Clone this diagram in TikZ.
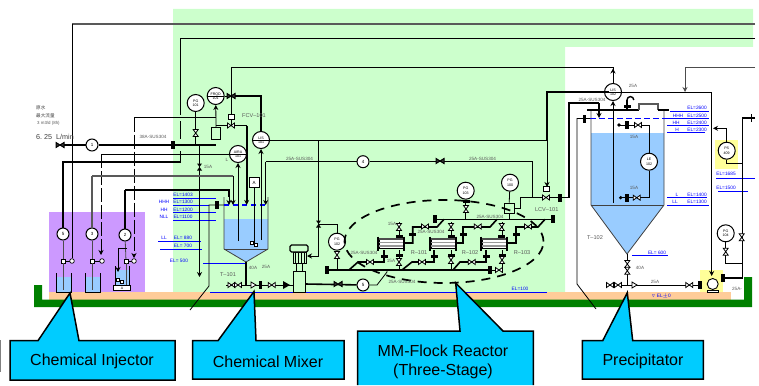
\documentclass[tikz,border=0pt]{standalone}
\usepackage{amssymb}
\usepackage{fontspec}
\setmainfont{Liberation Sans}
\newfontfamily\cjkfont{Noto Sans CJK JP}
\usetikzlibrary{arrows.meta, calc}
\definecolor{areagreen}{HTML}{CCFFCC}
\definecolor{areapurple}{HTML}{CC99FF}
\definecolor{floorband}{HTML}{FFCC99}
\definecolor{floorgreen}{HTML}{008000}
\definecolor{liquid}{HTML}{99CCFF}
\definecolor{callblue}{HTML}{00CCFF}
\definecolor{markyellow}{HTML}{FFFF99}
\tikzset{
    pipe/.style={line width=1.6pt},
    mainpipe/.style={line width=2.4pt},
    line/.style={line width=.8pt},
    greyline/.style={line width=1.3pt, gray!70!black},
    longdash/.style={line width=.8pt, dash pattern=on 14pt off 3pt},
    flow/.style={-{Stealth[length=5pt,width=5pt]}},
    wall/.style={line width=.8pt, black!75},
    lab/.style={font=\fontsize{4.6}{5}\selectfont, text=black!65, inner sep=0pt},
    tag/.style={font=\fontsize{5.6}{6}\selectfont, text=black!65, inner sep=0pt},
    ellab/.style={font=\fontsize{4.8}{5}\selectfont, text=blue, inner sep=0pt},
    elline/.style={line width=.8pt, blue},
    inst/.style={circle, draw, line width=1pt, fill=white, minimum size=17pt, inner sep=0pt,
        align=center, font=\fontsize{3.6}{4.2}\selectfont},
    instline/.style={inst, path picture={\draw[line width=.5pt] (path picture bounding box.west) -- (path picture bounding box.east);}},
    numc/.style={circle, draw, line width=1pt, fill=white, minimum size=12pt, inner sep=0pt,
        font=\fontsize{4.5}{5}\selectfont},
    calltext/.style={font=\fontsize{16}{19}\selectfont, align=center, inner sep=0pt},
    callout/.style={line width=1.5pt, fill=callblue, line join=miter},
    hvalve/.pic={\draw[line width=.8pt, fill=white] (-3.5,-2.5) -- (3.5,2.5) -- (3.5,-2.5) -- (-3.5,2.5) -- cycle;},
    vvalve/.pic={\draw[line width=.8pt, fill=white] (-2.5,-3.5) -- (2.5,3.5) -- (-2.5,3.5) -- (2.5,-3.5) -- cycle;},
    dkvalve/.pic={\fill (-2.5,-3.5) -- (2.5,3.5) -- (-2.5,3.5) -- (2.5,-3.5) -- cycle;},
    dkhvalve/.pic={\draw[line width=1pt, fill=black!80] (-4,-2.5) -- (4,2.5) -- (4,-2.5) -- (-4,2.5) -- cycle;},
    vblock/.pic={\fill (-1.7,-4) rectangle (1.7,4);},
    hblock/.pic={\fill (-3.5,-1.5) rectangle (3.5,1.5);},
    meter/.pic={\draw[line width=.7pt, fill=white] (-2,-2) rectangle (2,2);},
    reactor/.pic={
        \draw[line width=.5pt, fill=white] (-12,-4.5) rectangle (12,4.5);
        \draw[line width=1.1pt, black!70] (-12,-4.5) -- (12,-4.5);
        \draw[line width=1.1pt, black!40] (-12,2.5) -- (12,2.5);
        \draw[line width=.5pt, black!40] (-12,-1) -- (12,-1);
        \draw[line width=1.1pt] (-13,-7) -- (-13,7) (13,-7) -- (13,7);
    },
}
\begin{document}
\begin{tikzpicture}[x=1pt, y=-1pt]
    \useasboundingbox (0,0) rectangle (759,385);
    % areas
    \fill[areagreen] (173,9) -| (753,47) -| (565,292) -| cycle;
    \fill[areapurple] (49,212) rectangle (145,293);
    \fill[markyellow] (715,140) rectangle (738,169);
    \fill[markyellow] (700,270) rectangle (723,292);
    \fill[floorband] (49,292) rectangle (731,299.5);
    \fill[floorgreen] (34,285) -- (42,285) -- (42,299.5) -- (744,299.5) -- (744,277) -- (752,277) -- (752,307) -- (34,307) -- cycle;

    % tanks
    \fill[liquid] (224,219) -- (268,219) -- (268,249) -- (246,262) -- (224,249) -- cycle;
    \draw[wall] (224,197) -- (224,249) -- (246,262) -- (268,249) -- (268,197);
    \draw[wall] (224,249) -- (268,249);
    \fill[liquid] (591,133) -- (664,133) -- (664,205) -- (627,254) -- (591,205) -- cycle;
    \draw[wall] (591,110) -- (591,205) -- (627,254) -- (664,205) -- (664,110);
    \draw[wall] (591,205) -- (664,205);
    \draw[pipe] (587,110) -- (639,110);
    \draw[greyline] (639,110) -- (639,104) -- (658,104) -- (658,110);
    \draw[pipe] (658,110) -- (669,110);
    \draw[line width=1.6pt, blue, dash pattern=on 5pt off 4pt] (224,205) -- (268,205);
    \draw[line width=1pt, blue, dash pattern=on 6pt off 3pt] (590,118.5) -- (665,118.5);

    % dosing buckets
    \foreach \x/\r in {56/71, 85/100} {
        \fill[liquid] (\x,277) rectangle (\r,292);
        \draw[line width=1pt] (\x,273) -- (\x,292) -- (\r,292) -- (\r,273);
    }
    \fill[liquid] (115,270) rectangle (129,285);
    \draw[line width=1pt] (115,266) -- (115,285) (129,285) -- (129,266);
    \node[draw, line width=1pt, fill=white, minimum width=17pt, minimum height=5pt, inner sep=0pt,
        font=\fontsize{3.5}{4}\selectfont] (stand) at (122,288) {A};

    % level lines on the left
    \foreach \y/\a/\b in {198/173/216, 212/173/216, 220/173/216, 241.5/158/201, 249/160/202, 263/203/246, 205/173/209}
        \draw[elline] (\a,\y) -- (\b,\y);
    \foreach \i/\x/\y/\t in {a/183/195/EL=1403, b/183/202/EL=1300, c/183/209.5/EL=1200, d/183/217/EL=1100,
        e/183/238/EL=\ 880, f/183/246/EL=\ 700, g/179/261/EL=\ 500, h/164/202/HHH, j/164/210/HH, k/164/217/NLL, l/164/238/LL}
        \node[ellab] (lvl\i) at (\x,\y) {\t};
    % level lines on the right
    \foreach \y/\a/\b in {111.5/670/709, 118.5/665/709, 125.5/667/709, 132.5/667/705, 197.5/667/707, 205/667/709,
        255/632/668, 178/716/755, 191/718/748}
        \draw[elline] (\a,\y) -- (\b,\y);
    \foreach \i/\x/\y/\t in {a/697/108/EL=2600, b/697/115.5/EL=2500, c/697/123/EL=2400, d/697/130/EL=2300,
        e/697/195/EL=1400, f/697/202/EL=1300, g/657/252.5/EL=\ 600, h/726/173.5/EL=1685, i/726/187.5/EL=1500,
        j/678/115.5/HHH, k/676/123/HH, m/677/130/H, n/677/195/L, o/675/202/LL}
        \node[ellab] (lvr\i) at (\x,\y) {\t};
    \draw[elline] (210,292) -- (547,292);
    \node[ellab] (elfloor) at (520,289) {EL=100};
    \node[ellab] (elzero) at (661,296) {$\triangledown$ EL$\pm$0};

    % instruments
    \node[inst] (pg101) at (195.7,103) {PG\\101};
    \node[instline] (frq101) at (215.7,96) {FRQD\\101};
    \node[instline] (aira101) at (238,154) {AIRA\\101};
    \node[instline] (lis101) at (261,140) {LIS\\101};
    \node[inst] (pg102) at (337,241.7) {PG\\102};
    \node[inst] (pg103) at (465.7,190.7) {PG\\103};
    \node[inst] (pg100) at (510,182.7) {PG\\100};
    \node[instline] (lis102) at (613,92) {LIS\\102};
    \node[inst] (le102) at (649,161.7) {LE\\102};
    \node[inst] (ps409) at (726.7,150.7) {PS\\409};
    \node[inst] (pg104) at (725.7,233.3) {PG\\104};
    \node[numc] (flow1) at (92,145) {1};
    \node[numc] (dose5) at (63,234) {5};
    \node[numc] (dose3) at (92,234) {3};
    \node[numc] (dose2) at (125,235) {2};
    \node[numc] (flow4) at (363,161.7) {4};
    \node[numc] (flow5) at (363,285) {5};
    \node[draw, line width=.8pt, fill=white, minimum size=10pt, inner sep=0pt,
        font=\fontsize{4.5}{5}\selectfont] (analyser) at (254,182.5) {A};
    \node[draw, line width=.8pt, fill=areagreen, minimum width=9pt, minimum height=12pt, inner sep=0pt] (strainer) at (216,133) {};
    \node[draw, line width=.7pt, fill=white, minimum width=6pt, minimum height=5pt, inner sep=0pt] (fcvtop) at (231,117) {};
    \node[draw, line width=.7pt, fill=white, minimum width=6pt, minimum height=5pt, inner sep=0pt] (lcvtop) at (546,189) {};
    \node[draw, line width=.8pt, fill=areagreen, minimum size=10pt, inner sep=0pt] (levelbox) at (509,208) {};
    \coordinate (feed) at (60,145);
    \coordinate (fcv) at (231,125.5);
    \coordinate (lcv) at (546,197.5);

    % long lines at the top
    \draw[greyline] (755,24) -- (72,24);
    \draw[line width=.9pt] (72,24) -- (72,258);
    \draw[pipe] (755,38.6) -| (180.5,115);
    \draw[pipe] (180.5,121) -- (180.5,139);
    \draw[pipe] (180.5,151) -- (180.5,162) -| (dose5);
    \draw[line] (231,67.6) -| (lis102);
    \draw[line, flow] (613,78) -- (613,68.5);
    \draw[line] (231,67.6) -- (fcvtop);
    \draw[line, flow, gray!60!black] (755,67) -| (685,92);

    % feed to T-101
    \draw[mainpipe] (feed) -- (flow1) -- (216,145);
    \draw[line] (pg101) -- (195.7,145);
    \draw[line] (199.5,145) -- (199.5,172);
    \draw[line, flow] (199.5,172) -- (199.5,277);
    \draw[line, flow] (216,127) -- (frq101);
    \draw[line] (frq101) -- (231,96);
    \draw[pipe] (231,96) -| (lis101);
    \draw[line] (134,117.5) -- (216,117.5);
    \draw[longdash, flow] (134,117.5) -- (134,258);
    \draw[line] (101,154) -- (aira101);
    \draw[longdash, flow] (101,154) -- (101,255);
    \draw[pipe] (216,125.5) -- (fcv) -- (246.7,125.5);
    \draw[pipe, flow] (246.7,125.5) -- (246.7,205);
    \draw[line] (fcvtop) -- (fcv);
    \draw[greyline] (92,176) -- (233,176);
    \draw[greyline] (92,176) -- (dose3);
    \draw[line, flow] (233,176) -- (233,205);
    \draw[pipe] (125,190) -| (229,197);
    \draw[pipe] (125,190) -- (dose2);
    \draw[line, flow] (229,197) -- (229,205);
    \draw[line, flow] (238,241) -- (aira101);
    \draw[line] (analyser) -- (254,243);
    \draw[line, flow] (261,240) -- (lis101);
    \draw[line] (lis101) -- (547,140);

    % leaders and dose lines
    \draw[line] (224,205) -- (209,205) -- (209,286) -- (190,310);
    \draw[line] (590,118.5) -- (577,118.5) -- (577,284) -- (596,309);
    \foreach \x/\s/\c in {63/dose5/72, 92/dose3/102, 126/dose2/134} {
        \draw[line, gray!60!black] (\s) -- (\x,261);
        \draw[line] (\x,261) -- (\c,261);
        \draw[fill=white, line width=.7pt] (\c,261) circle (2.3pt);
        \pic at (\x,261) {meter};
    }
    \draw[line, gray!60!black] (63,263) -- (63,290) (92,263) -- (92,290) (126,263) -- (126,285);
    \draw[line, flow] (127,248) -| (118,272);

    % return line and pump feed
    \draw[line, flow] (265.7,161.7) -- (265.7,205);
    \draw[line] (265.7,161.7) -- (flow4) -- (532.7,161.7) -- (532.7,197.5);
    \draw[line] (318.5,140) -- (318.5,256);
    \draw[line, flow] (318.5,256) -- (307,256);
    \draw[line] (318.5,224) -| (pg102);
    \draw[line] (pg102) -- (337,270);
    \draw[pipe] (246,262) -- (246,285);
    \draw[line] (226,285) -- (293,285);
    \draw[pipe] (305,284) -- (flow5);
    \draw[line] (flow5) -- (377,285) -- (387,272) -- (387,270);

    % reactor manifolds
    \draw[pipe] (327,270) -- (490,270);
    \draw[pipe] (435,219.3) -- (553,219.3);
    \foreach \a/\b/\c in {349/358/384, 402/412/434, 453/460/486} {
        \draw[pipe] (\a,270) -- (\b,262) -- (\c,262) -- (\c,250);
    }
    \foreach \a/\b/\c in {412.7/437/444, 463/490/497, 516/538/545} {
        \draw[pipe] (\a-8,243) -- (\a,243) -- (\a,227) -- (\b,227) -- (\c,219.3);
    }
    \foreach \x in {399,451,502} {
        \draw[line] (\x,222) -- (\x,237) (\x,250) -- (\x,270);
    }
    \draw[line] (490,270) -- (502,270);
    \draw[line] (pg103) -- (465.7,219.3);
    \draw[line] (pg100) -- (levelbox);
    \draw[pipe] (520,197.5) -- (lcv) -- (569,197.5) |- (599,103);
    \draw[pipe, flow] (599,103) -- (599,118);
    \draw[line] (levelbox.east) -| (520,197.5);
    \draw[line] (levelbox.south) -- (509,219.3);

    % level and T-102 lines
    \draw[pipe] (609,92) -| (547,140);
    \draw[line, flow] (547,140) -- (547,187);
    \draw[line] (lis102) -- (711.7,92) -- (711.7,270);
    \draw[line, flow] (711.7,268) -- (711.7,276);
    \draw[line, flow] (613,203) -- (lis102);
    \draw[line] (619,125) -- (649,125) -- (le102) -- (649,197.7) -- (620.7,197.7);
    \draw[pipe] (627,110) -- (627,100);
    \draw[line width=1.4pt] (627,100) arc (180:0:3.4pt);
    \draw[pipe] (627.3,254) -- (627.3,285);
    \draw[line] (607,285) -- (700,285);
    \draw[line, flow] (ps409) |- (713,128.3);
    \draw[line] (ps409) -- (726.7,163) -- (742,163);
    \draw[pipe] (755,118) -| (742.3,278) -- (723,278);
    \draw[line] (751,114) -- (751,122);
    \draw[line] (pg104) -- (725.7,263) -- (742,263);

    % equipment
    \draw[line width=.8pt, fill=areagreen] (293,271) rectangle (305,292);
    \draw[line width=.8pt, fill=areagreen] (293,252) rectangle (306,263);
    \foreach \x in {295,298,301,304} \draw[line width=.9pt] (\x,252) -- (\x,263);
    \draw[line width=1.2pt, fill=areagreen, rounded corners=1.5pt] (290,245) rectangle (308,252);
    \draw[line width=.8pt] (296,263) -- (296,271) (302,263) -- (302,271);
    \foreach \x in {391,443,494}
        \pic at (\x,243.5) {reactor};
    \draw[line width=.9pt, fill=white] (712.7,284) circle (5.5pt);
    \draw[line width=.8pt, fill=white] (707,290) rectangle (718,292.5);
    \draw[fill=white, line width=.6pt] (250.5,241.5) rectangle (253.5,244.5) (254,243) rectangle (257,246);
    \draw[fill=white, line width=.6pt] (116.5,278) rectangle (119.5,281) (120,280) rectangle (123,283);

    % valves and flanges
    \foreach \x/\y in {231/125.5, 546/197.5, 231.5/285, 238/285, 271.7/285,
        425/226.5, 477.7/226.5, 528/226.5, 370/262, 422/262, 471.7/262, 499/270, 610/285, 618/285, 689.3/285}
        \pic at (\x,\y) {hvalve};
    \foreach \x/\y in {60/145, 231/96, 440/161, 338/284}
        \pic at (\x,\y) {dkhvalve};
    \foreach \x/\y in {195.7/133, 399/227, 451/227, 501.7/227, 399/262, 451/260, 502/260, 466/209, 337/255, 627.3/264,
        627.3/270.7, 725.7/251.7, 741.7/237.3}
        \pic at (\x,\y) {vvalve};
    \foreach \x/\y in {199.5/167, 318.5/224}
        \pic at (\x,\y) {dkvalve};
    \foreach \x/\y in {173/145, 217/205, 584.5/118.5, 260.7/285, 700/285, 723/278, 435/219.3, 553/219.3, 327/270, 490/270,
        560/197.5}
        \pic at (\x,\y) {vblock};
    \foreach \x/\y in {399/236, 451/236, 501.7/236, 399/255.7, 451/255.7, 502/255.7, 384/256, 434/256, 486/256,
        412.7/234, 463/234, 516/234, 466/201, 627/106.7}
        \pic at (\x,\y) {hblock};
    \pic at (627,125) {vblock};
    \pic at (627,197.7) {vblock};
    \pic at (638,125) {hvalve};
    \pic at (636.7,197.7) {hvalve};
    \fill (619,125) circle (1.8pt) (620.7,197.7) circle (1.8pt);
    \fill (290,285) -- (283,281) -- (283,289) -- cycle;
    \draw[fill=white, line width=.8pt] (251,282) -- (256,285) -- (251,288) -- cycle;
    \draw[fill=white, line width=.8pt] (632,282) -- (637,285) -- (632,288) -- cycle;

    % MM-Flock boundary
    \draw[line width=1.7pt, dash pattern=on 9pt off 7pt] (444,241.5) ellipse (99.5pt and 41.5pt);

    % labels
    \node[tag] (t101) at (228,275) {T--101};
    \node[tag] (t102) at (595,238) {T--102};
    \node[tag] (fcvtag) at (254,116) {FCV--101};
    \node[tag] (lcvtag) at (546.7,210) {LCV--101};
    \node[tag] (r101) at (419,252.7) {R--101};
    \node[tag] (r102) at (470,252.7) {R--102};
    \node[tag] (r103) at (522,252.7) {R--103};
    \foreach \i/\x/\y/\t in {a/153/137/38A-SUS304, b/299.5/159/25A-SUS304, c/482.5/159/25A-SUS304,
        d/592/100/25A-SUS304, e/431/231.7/25A-SUS304, f/364/253/25A-SUS304, g/490/216.7/25A-SUS304,
        h/402/282/25A-SUS304, i/208/167/15A, j/392/224/15A, k/391/261/15A, m/634/137/15A, n/634/188/15A,
        o/633/86/25A, p/253/268/40A, q/266/267/25A, r/640/268/40A, s/655/282/25A, t/737/289/25A-}
        \node[lab] (size\i) at (\x,\y) {\t};
    \node[lab] (airal) at (227,160) {L};
    \node[anchor=west, inner sep=0pt, text=black!75, font=\fontsize{4.6}{6}\selectfont\cjkfont] (feedname) at (36,108) {原水};
    \node[anchor=west, inner sep=0pt, text=black!75, font=\fontsize{4.6}{6}\selectfont\cjkfont] (feedmax) at (36,115.5) {最大流量};
    \node[anchor=west, inner sep=0pt, text=black!65, font=\fontsize{4.4}{6}\selectfont] (feedrate) at (37,123) {3 m3/d (8h)};
    \node[anchor=west, inner sep=0pt, text=black!75, font=\fontsize{7.2}{8}\selectfont] (feedflow) at (36,136.5) {6.\ 25\ \ L/min};

    % callouts
    \draw[line width=1pt, gray] (0.5,340) -- (0.5,372);
    \draw[callout] (10,340.7) -- (38,340.7) -- (70,293) -- (79,340.7) -- (175,340.7) -- (175,380) -- (10,380) -- cycle;
    \node[calltext] (injector) at (92,361.5) {Chemical Injector};
    \draw[callout] (192.7,340.7) -- (218,340.7) -- (254,291.5) -- (256,340.7) -- (344,340.7) -- (344,379) -- (192.7,379) -- cycle;
    \node[calltext] (mixer) at (268,361.5) {Chemical Mixer};
    \fill[callblue] (357.7,331) -- (460,331) -- (455.7,283) -- (503,331) -- (533.3,331) -- (533.3,385) -- (357.7,385) -- cycle;
    \draw[line width=1.5pt] (357.7,385) -- (357.7,331) -- (460,331) -- (455.7,283) -- (503,331) -- (533.3,331) -- (533.3,385);
    \node[calltext] (flock) at (443,361.5) {MM-Flock Reactor\\(Three-Stage)};
    \draw[callout] (582.3,340.7) -- (602.7,340.7) -- (627.3,292.7) -- (632.7,340.7) -- (703.3,340.7) -- (703.3,379) -- (582.3,379) -- cycle;
    \node[calltext] (precip) at (643,361.5) {Precipitator};
\end{tikzpicture}
\end{document}
